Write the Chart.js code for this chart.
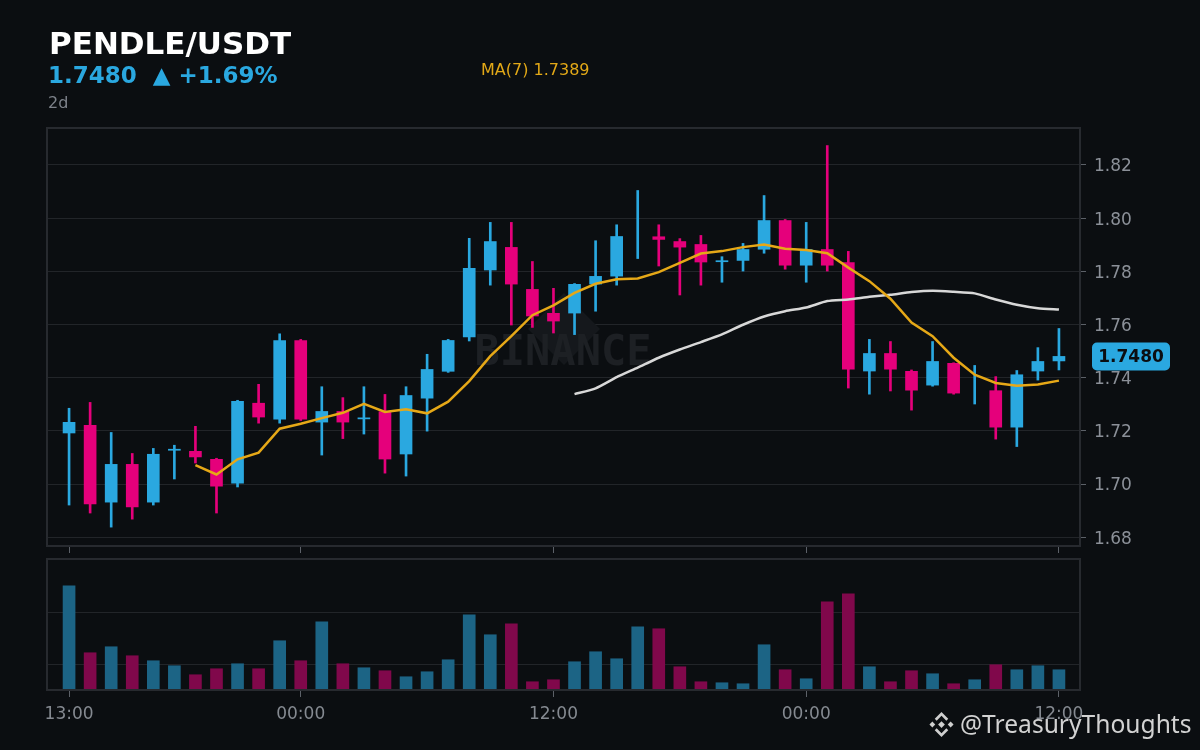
<!DOCTYPE html>
<html lang="en">
<head>
<meta charset="UTF-8">
<title>PENDLE/USDT</title>
<style>
    body { margin: 0; background: #0b0e11; font-family: "DejaVu Sans", sans-serif; }
    #page { position: relative; width: 1200px; height: 750px; overflow: hidden; background: #0b0e11; }
    #page canvas { position: absolute; left: 0; }
    #priceCanvas { top: 0; }
    #volCanvas { top: 550px; }
    .txt { position: absolute; white-space: nowrap; line-height: 1; z-index: 2; }
    #title { left: 49px; top: 28px; font-size: 31px; font-weight: bold; color: #ffffff; }
    #last { left: 48px; top: 64px; font-size: 23px; font-weight: bold; color: #2aa8e0; }
    #interval { left: 48px; top: 95px; font-size: 16px; color: #7d828a; }
    #maLabel { left: 481px; top: 62px; font-size: 16px; color: #e2a817; }
    #credit { left: 960px; top: 712px; font-family: "Noto Sans", sans-serif; font-size: 24.6px; color: #d2d2d2; }
    #logo { position: absolute; left: 928px; top: 711px; width: 27px; height: 27px; z-index: 2; }
</style>
<script src="https://cdn.jsdelivr.net/npm/chart.js"></script>
</head>
<body>
<div id="page">
    <canvas id="priceCanvas" width="1200" height="565"></canvas>
    <canvas id="volCanvas" width="1200" height="200"></canvas>
    <div class="txt" id="title">PENDLE/USDT</div>
    <div class="txt" id="last">1.7480&nbsp;&nbsp;▲ +1.69%</div>
    <div class="txt" id="interval">2d</div>
    <div class="txt" id="maLabel">MA(7) 1.7389</div>
    <svg id="logo" viewBox="0 0 28 28">
        <g fill="#cfcfcf">
            <path d="M14 10.5 L17.5 14 L14 17.5 L10.5 14 Z"/>
            <path d="M4.5 11 L7.5 14 L4.5 17 L1.5 14 Z"/>
            <path d="M23.5 11 L26.5 14 L23.5 17 L20.5 14 Z"/>
            <path d="M14 1 L21 8 L19 10 L14 5 L9 10 L7 8 Z"/>
            <path d="M14 27 L21 20 L19 18 L14 23 L9 18 L7 20 Z"/>
        </g>
    </svg>
    <div class="txt" id="credit">@TreasuryThoughts</div>
</div>

<script>
    // hourly candles, 13:00 -> 12:00 two days later
    const times = [
        '13:00', '14:00', '15:00', '16:00', '17:00', '18:00', '19:00', '20:00', '21:00', '22:00', '23:00',
        '00:00', '01:00', '02:00', '03:00', '04:00', '05:00', '06:00', '07:00', '08:00', '09:00', '10:00', '11:00',
        '12:00', '13:00', '14:00', '15:00', '16:00', '17:00', '18:00', '19:00', '20:00', '21:00', '22:00', '23:00',
        '00:00', '01:00', '02:00', '03:00', '04:00', '05:00', '06:00', '07:00', '08:00', '09:00', '10:00', '11:00',
        '12:00'
    ];

    const opens = [
        1.7192, 1.7221, 1.6932, 1.7074, 1.6932, 1.7127, 1.7123, 1.7093, 1.7003, 1.7304, 1.7244, 1.7540,
        1.7233, 1.7273, 1.7245, 1.7272, 1.7113, 1.7323, 1.7424, 1.7553, 1.7805, 1.7890, 1.7732, 1.7642,
        1.7643, 1.7752, 1.7782, 1.7850, 1.7930, 1.7912, 1.7901, 1.7836, 1.7841, 1.7883, 1.7991, 1.7823,
        1.7882, 1.7833, 1.7425, 1.7491, 1.7424, 1.7372, 1.7454, 1.7390, 1.7351, 1.7214, 1.7425, 1.7463
    ];
    const highs = [
        1.7285, 1.7307, 1.7194, 1.7115, 1.7134, 1.7146, 1.7217, 1.7097, 1.7315, 1.7375, 1.7565, 1.7544,
        1.7366, 1.7325, 1.7366, 1.7337, 1.7366, 1.7488, 1.7544, 1.7924, 1.7984, 1.7984, 1.7837, 1.7736,
        1.7754, 1.7915, 1.7975, 1.8104, 1.7975, 1.7923, 1.7935, 1.7855, 1.7905, 1.8085, 1.7995, 1.7984,
        1.8273, 1.7875, 1.7544, 1.7536, 1.7429, 1.7536, 1.7456, 1.7446, 1.7404, 1.7427, 1.7513, 1.7585
    ];
    const lows = [
        1.6921, 1.6891, 1.6838, 1.6868, 1.6921, 1.7019, 1.7079, 1.6891, 1.6989, 1.7229, 1.7229, 1.7239,
        1.7109, 1.7171, 1.7188, 1.7041, 1.7030, 1.7199, 1.7420, 1.7538, 1.7748, 1.7598, 1.7589, 1.7568,
        1.7562, 1.7650, 1.7748, 1.7848, 1.7820, 1.7711, 1.7748, 1.7759, 1.7801, 1.7868, 1.7808, 1.7759,
        1.7801, 1.7361, 1.7338, 1.7350, 1.7278, 1.7368, 1.7338, 1.7301, 1.7169, 1.7141, 1.7391, 1.7429
    ];
    const closes = [
        1.7232, 1.6925, 1.7074, 1.6914, 1.7112, 1.7131, 1.7102, 1.6992, 1.7311, 1.7252, 1.7540, 1.7244,
        1.7273, 1.7233, 1.7249, 1.7094, 1.7333, 1.7431, 1.7540, 1.7811, 1.7912, 1.7752, 1.7632, 1.7613,
        1.7751, 1.7781, 1.7931, 1.7850, 1.7920, 1.7891, 1.7835, 1.7840, 1.7882, 1.7991, 1.7823, 1.7882,
        1.7823, 1.7432, 1.7491, 1.7432, 1.7353, 1.7461, 1.7342, 1.7390, 1.7214, 1.7411, 1.7461, 1.7480
    ];
    // volume, thousands
    const volumes = [
        417, 149, 173, 137, 117, 97, 61, 85, 105, 85, 197, 117,
        273, 105, 89, 77, 53, 73, 121, 301, 221, 265, 33, 41,
        113, 153, 125, 253, 245, 93, 33, 29, 25, 181, 81, 45,
        353, 385, 93, 33, 77, 65, 25, 41, 101, 81, 97, 81
    ];
    const ma7 = [
        null, null, null, null, null, null, 1.7071, 1.7036, 1.7093, 1.7118, 1.7208, 1.7227,
        1.7248, 1.7268, 1.7302, 1.7271, 1.7281, 1.7266, 1.7310, 1.7387, 1.7481, 1.7556, 1.7635, 1.7672,
        1.7719, 1.7753, 1.7770, 1.7773, 1.7797, 1.7832, 1.7867, 1.7876, 1.7891, 1.7901, 1.7885, 1.7880,
        1.7868, 1.7814, 1.7763, 1.7697, 1.7607, 1.7556, 1.7475, 1.7411, 1.7380, 1.7370, 1.7374, 1.7389
    ];
    const ma25 = [
        null, null, null, null, null, null, null, null, null, null, null, null,
        null, null, null, null, null, null, null, null, null, null, null, null,
        1.7338, 1.7360, 1.7402, 1.7438, 1.7475, 1.7506, 1.7534, 1.7563, 1.7599, 1.7630, 1.7650, 1.7664,
        1.7688, 1.7694, 1.7704, 1.7712, 1.7722, 1.7727, 1.7723, 1.7717, 1.7694, 1.7674, 1.7661, 1.7656
    ];

    const priceTicks = [1.68, 1.70, 1.72, 1.74, 1.76, 1.78, 1.80, 1.82];
    const volTicks = [103, 311];
    const timeTicks = [0, 11, 23, 35, 47];

    const upColor = '#2aa8e0';
    const downColor = '#e5007b';
    const upVol = '#1c6485';
    const downVol = '#80084b';
    const gridColor = '#222529';
    const tickMarkColor = '#5c6168';

    Chart.defaults.font.family = '"DejaVu Sans", sans-serif';

    const isUp = i => closes[i] >= opens[i];

    // outline round each panel
    const framePlugin = {
        id: 'frame',
        afterDraw(chart) {
            const a = chart.chartArea, ctx = chart.ctx;
            ctx.save();
            ctx.strokeStyle = '#272a2f';
            ctx.lineWidth = 2;
            ctx.strokeRect(a.left - 1, a.top, a.right - a.left + 1, a.bottom - a.top);
            ctx.restore();
        }
    };

    // faint exchange watermark behind the candles
    const watermarkPlugin = {
        id: 'watermark',
        beforeDatasetsDraw(chart) {
            const ctx = chart.ctx;
            ctx.save();
            ctx.fillStyle = '#15181c';
            ctx.beginPath();
            ctx.moveTo(564, 293);
            ctx.lineTo(600, 329);
            ctx.lineTo(564, 365);
            ctx.lineTo(528, 329);
            ctx.closePath();
            ctx.fill();
            ctx.font = 'bold 42px "DejaVu Sans Mono", monospace';
            ctx.fillStyle = '#1d2024';
            ctx.textAlign = 'center';
            ctx.textBaseline = 'alphabetic';
            ctx.fillText('BINANCE', 563, 365);
            ctx.restore();
        }
    };

    // last price tag on the right axis
    const priceTagPlugin = {
        id: 'priceTag',
        afterDraw(chart) {
            const ctx = chart.ctx;
            const last = closes[closes.length - 1];
            const y = chart.scales.y.getPixelForValue(last);
            ctx.save();
            ctx.fillStyle = upColor;
            ctx.beginPath();
            ctx.roundRect(1092, y - 14, 78, 28, 5);
            ctx.fill();
            ctx.font = 'bold 17px "DejaVu Sans"';
            ctx.fillStyle = '#0b0e11';
            ctx.textAlign = 'center';
            ctx.textBaseline = 'middle';
            ctx.fillText(last.toFixed(4), 1131, y + 1);
            ctx.restore();
        }
    };

    const xRange = { min: -1, max: times.length };

    new Chart(document.getElementById('priceCanvas'), {
        type: 'bar',
        data: {
            datasets: [
                {
                    type: 'line',
                    label: 'MA(7)',
                    data: ma7.map((v, i) => ({ x: i, y: v })).filter(p => p.y !== null),
                    borderColor: '#e6a817',
                    borderWidth: 2.5,
                    pointRadius: 0,
                    tension: 0,
                    order: 1
                },
                {
                    type: 'line',
                    label: 'MA(25)',
                    data: ma25.map((v, i) => ({ x: i, y: v })).filter(p => p.y !== null),
                    borderColor: '#d8d8d8',
                    borderWidth: 2.5,
                    pointRadius: 0,
                    tension: 0.2,
                    order: 1
                },
                {
                    label: 'body',
                    // a candle whose open equals its close shows only its wick
                    data: opens.map((o, i) => ({ x: i, y: o === closes[i] ? null : [o, closes[i]] })),
                    backgroundColor: ctx => isUp(ctx.dataIndex) ? upColor : downColor,
                    barThickness: 12,
                    grouped: false,
                    order: 2
                },
                {
                    label: 'wick',
                    data: lows.map((l, i) => ({ x: i, y: [l, highs[i]] })),
                    backgroundColor: ctx => isUp(ctx.dataIndex) ? upColor : downColor,
                    barThickness: 2,
                    grouped: false,
                    order: 3
                }
            ]
        },
        options: {
            responsive: false,
            animation: false,
            layout: { padding: { left: 48, top: 128, right: 0, bottom: 0 } },
            plugins: { legend: { display: false }, tooltip: { enabled: false } },
            scales: {
                x: {
                    type: 'linear',
                    offset: false,
                    min: xRange.min,
                    max: xRange.max,
                    afterBuildTicks: s => { s.ticks = timeTicks.map(v => ({ value: v })); },
                    afterFit: s => { s.height = 19; },
                    ticks: { display: false },
                    grid: { offset: false, drawOnChartArea: false, drawTicks: true, tickLength: 7, tickColor: tickMarkColor },
                    border: { display: false }
                },
                y: {
                    position: 'right',
                    min: 1.6767,
                    max: 1.8339,
                    z: 1,
                    afterBuildTicks: s => { s.ticks = priceTicks.map(v => ({ value: v })); },
                    afterFit: s => { s.width = 120; },
                    ticks: {
                        color: '#8b9098',
                        font: { size: 17 },
                        padding: 8,
                        labelOffset: 2,
                        callback: v => v.toFixed(2)
                    },
                    grid: { color: gridColor, tickLength: 6, tickColor: tickMarkColor },
                    border: { display: false }
                }
            }
        },
        plugins: [watermarkPlugin, framePlugin, priceTagPlugin]
    });

    new Chart(document.getElementById('volCanvas'), {
        type: 'bar',
        data: {
            datasets: [{
                label: 'Volume',
                data: volumes.map((v, i) => ({ x: i, y: v })),
                backgroundColor: ctx => isUp(ctx.dataIndex) ? upVol : downVol,
                barThickness: 12
            }]
        },
        options: {
            responsive: false,
            animation: false,
            layout: { padding: { left: 48, top: 9, right: 0, bottom: 0 } },
            plugins: { legend: { display: false }, tooltip: { enabled: false } },
            scales: {
                x: {
                    type: 'linear',
                    offset: false,
                    min: xRange.min,
                    max: xRange.max,
                    afterBuildTicks: s => { s.ticks = timeTicks.map(v => ({ value: v })); },
                    afterFit: s => { s.height = 60; },
                    ticks: {
                        color: '#858a91',
                        font: { size: 17 },
                        padding: 7,
                        maxRotation: 0,
                        autoSkip: false,
                        callback: v => times[v]
                    },
                    grid: { offset: false, drawOnChartArea: false, drawTicks: true, tickLength: 7, tickColor: tickMarkColor },
                    border: { display: false }
                },
                y: {
                    position: 'right',
                    min: 0,
                    max: 524,
                    afterBuildTicks: s => { s.ticks = volTicks.map(v => ({ value: v })); },
                    afterFit: s => { s.width = 120; },
                    ticks: { display: false },
                    grid: { color: gridColor, drawTicks: false },
                    border: { display: false }
                }
            }
        },
        plugins: [framePlugin]
    });
</script>
</body>
</html>
